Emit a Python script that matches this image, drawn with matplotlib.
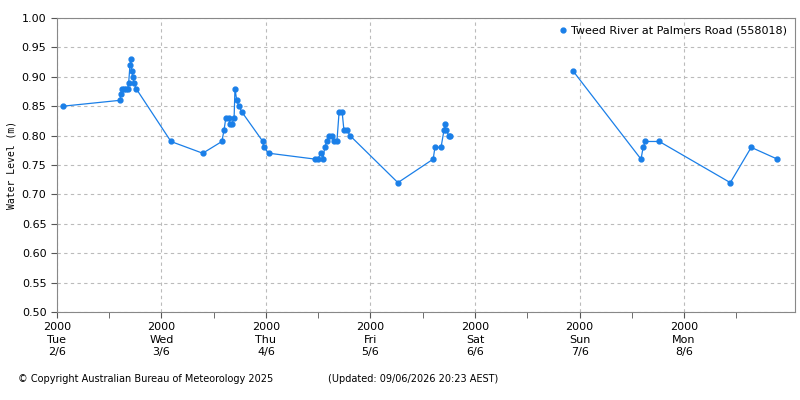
import matplotlib
matplotlib.use("Agg")
import matplotlib.pyplot as plt
import numpy as np

hours = [1.4, 14.5, 14.7, 15.0, 15.4, 15.8, 16.3, 16.5, 16.8, 17.0, 17.2, 17.5, 17.7, 18.2,
         26.2, 33.5, 37.9, 38.4, 38.8, 39.5, 39.7, 40.2, 40.7, 40.9, 41.3, 41.8, 42.5,
         47.3, 47.5, 48.7, 59.3, 59.9, 60.6, 61.1, 61.5, 62.0, 62.5, 63.1, 63.6, 64.3,
         64.8, 65.5, 65.9, 66.6, 67.3, 78.3, 86.4, 86.8, 88.2, 88.9, 89.1, 89.3, 90.0, 90.2,
         104.0,
         118.5, 134.1, 134.6, 135.1, 138.3, 154.6, 159.4, 165.4]
level = [0.85, 0.86, 0.87, 0.88, 0.88, 0.88, 0.88, 0.89, 0.92, 0.93, 0.91, 0.90, 0.89, 0.88,
         0.79, 0.77, 0.79, 0.81, 0.83, 0.83, 0.82, 0.82, 0.83, 0.88, 0.86, 0.85, 0.84,
         0.79, 0.78, 0.77, 0.76, 0.76, 0.77, 0.76, 0.78, 0.79, 0.80, 0.80, 0.79, 0.79,
         0.84, 0.84, 0.81, 0.81, 0.80, 0.72, 0.76, 0.78, 0.78, 0.81, 0.82, 0.81, 0.80, 0.80,
         np.nan,
         0.91, 0.76, 0.78, 0.79, 0.79, 0.72, 0.78, 0.76]
day_labels = ["2000\nTue\n2/6", "2000\nWed\n3/6", "2000\nThu\n4/6", "2000\nFri\n5/6",
              "2000\nSat\n6/6", "2000\nSun\n7/6", "2000\nMon\n8/6"]

plt.rcParams['font.family'] = 'DejaVu Sans'
fig = plt.figure(figsize=(8, 4), dpi=100)
ax = fig.add_axes([0.071, 0.22, 0.923, 0.735])
c = '#1a7fe8'
ax.plot(hours, level, '-', color=c, lw=0.9, marker='o', ms=3.5, mec=c, mfc=c,
        label='Tweed River at Palmers Road (558018)')
ax.set_xlim(0, 169.5)
ax.set_ylim(0.5, 1.0)
ax.set_yticks(np.arange(0.5, 1.001, 0.05))
ax.set_yticklabels([f"{v:.2f}" for v in np.arange(0.5, 1.001, 0.05)], fontsize=8)
ax.set_xticks([24 * i for i in range(7)])
ax.set_xticklabels(day_labels, fontsize=8, linespacing=1.3)
ax.set_xticks([12 + 24 * i for i in range(7)], minor=True)
ax.tick_params(which='both', length=4, color='#555555')
ax.grid(True, which='major', ls=(0, (3, 3)), color='#bbbbbb', lw=0.8)
ax.set_ylabel('Water Level (m)', fontsize=7, family='DejaVu Sans Mono')
for s in ax.spines.values():
    s.set_color('#888888')
ax.legend(loc='upper right', frameon=False, fontsize=8, handlelength=0.6,
          handletextpad=0.5, borderaxespad=0.3).get_lines()[0].set_linestyle('')
fig.text(0.022, 0.045, '© Copyright Australian Bureau of Meteorology 2025', fontsize=7)
fig.text(0.41, 0.045, '(Updated: 09/06/2026 20:23 AEST)', fontsize=7)
fig.savefig('out.png', dpi=100)
